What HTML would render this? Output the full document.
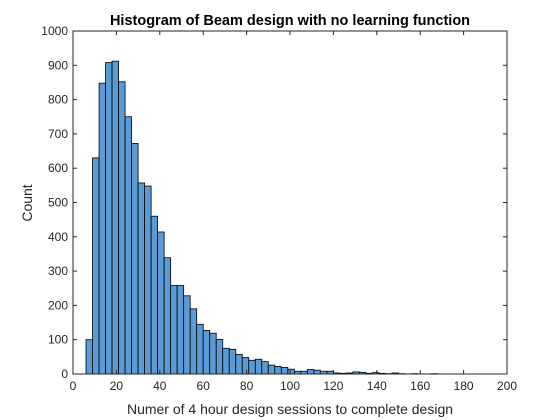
<!DOCTYPE html>
<html><head><meta charset="utf-8"><style>
body{margin:0;background:#fff;}
svg{display:block;font-family:"Liberation Sans",Arial,sans-serif;}
</style></head><body>
<svg id="chart" width="560" height="420" viewBox="0 0 560 420">
<rect width="560" height="420" fill="#fff"/>
<text x="290" y="25" text-anchor="middle" font-size="14.5" font-weight="bold" fill="#000">Histogram of Beam design with no learning function</text>
<text x="290" y="414" text-anchor="middle" font-size="14" fill="#262626">Numer of 4 hour design sessions to complete design</text>
<text x="0" y="0" transform="translate(32,203) rotate(-90)" text-anchor="middle" font-size="14" fill="#262626">Count</text>
<g id="bars"></g>
<g id="axes"></g>
</svg>
<script>
const binStart = 6;
const binWidth = 3;
const counts = [100,630,848,908,912,852,750,672,557,548,460,414,339,258,258,228,190,145,127,119,101,75,72,57,48,40,43,36,26,22,19,14,8,8,13,11,8,8,3,2,3,6,5,2,4,2,1,3,1,0,1,0,0,1];
const xTicks = [0,20,40,60,80,100,120,140,160,180,200];
const yTicks = [0,100,200,300,400,500,600,700,800,900,1000];
const L=73,R=507,T=31,B=374;
const xs=v=>L+(v-0)/(200-0)*(R-L);
const ys=v=>B-(v/1000)*(B-T);
const NS="http://www.w3.org/2000/svg";
const bars=document.getElementById('bars');
counts.forEach((c,i)=>{
  if(c<=0) return;
  const x0=xs(binStart+i*binWidth), x1=xs(binStart+(i+1)*binWidth);
  const r=document.createElementNS(NS,'rect');
  r.setAttribute('x',x0);r.setAttribute('y',ys(c));
  r.setAttribute('width',x1-x0);r.setAttribute('height',B-ys(c));
  r.setAttribute('fill','#5b9bd5');r.setAttribute('stroke','#000');r.setAttribute('stroke-width','0.8');
  
  
  bars.appendChild(r);
});
const ax=document.getElementById('axes');
const box=document.createElementNS(NS,'rect');
box.setAttribute('x',L);box.setAttribute('y',T);box.setAttribute('width',R-L);box.setAttribute('height',B-T);
box.setAttribute('fill','none');box.setAttribute('stroke','#262626');box.setAttribute('stroke-width','1');


ax.appendChild(box);
xTicks.forEach(v=>{
  const x=xs(v);
  [[B,B-4],[T,T+4]].forEach(([a,b])=>{
    const l=document.createElementNS(NS,'line');
    l.setAttribute('x1',x);l.setAttribute('x2',x);l.setAttribute('y1',a);l.setAttribute('y2',b);
    l.setAttribute('stroke','#262626');
    
    
    ax.appendChild(l);
  });
  const t=document.createElementNS(NS,'text');
  t.setAttribute('x',x);t.setAttribute('y',B+16);t.setAttribute('text-anchor','middle');
  t.setAttribute('font-size','12');t.setAttribute('fill','#262626');t.textContent=v;
  
  
  ax.appendChild(t);
});
yTicks.forEach(v=>{
  const y=ys(v);
  [[L,L+4],[R,R-4]].forEach(([a,b])=>{
    const l=document.createElementNS(NS,'line');
    l.setAttribute('x1',a);l.setAttribute('x2',b);l.setAttribute('y1',y);l.setAttribute('y2',y);
    l.setAttribute('stroke','#262626');
    
    
    ax.appendChild(l);
  });
  const t=document.createElementNS(NS,'text');
  t.setAttribute('x',L-5);t.setAttribute('y',y+4);t.setAttribute('text-anchor','end');
  t.setAttribute('font-size','12');t.setAttribute('fill','#262626');t.textContent=v;
  
  
  ax.appendChild(t);
});
</script>
</body></html>
